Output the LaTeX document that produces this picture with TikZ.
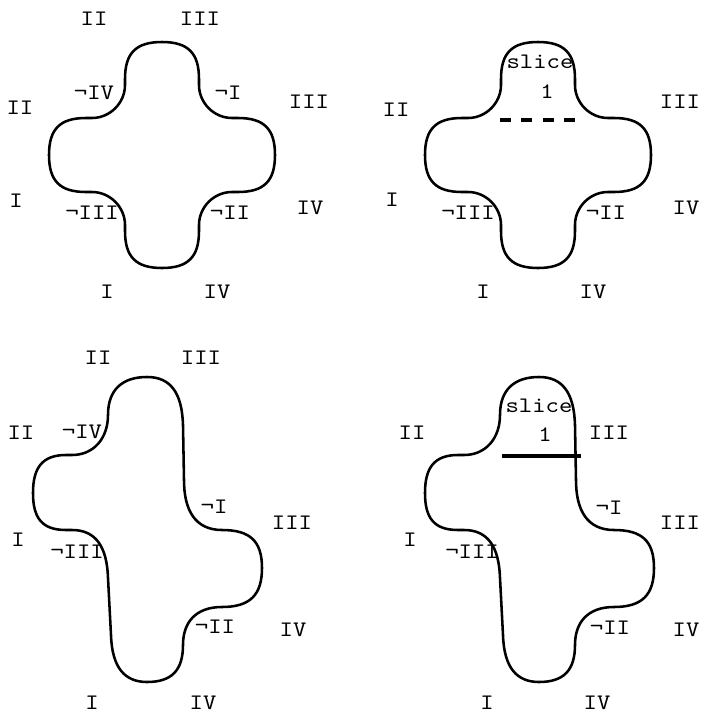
\documentclass[tikz,border=0pt]{standalone}
\usepackage{fontspec}
\newfontfamily\lblfont[FakeStretch=1.15]{lmmono10-regular.otf}
\usetikzlibrary{arrows.meta}
\begin{document}
\begin{tikzpicture}[
  x=0.02cm, y=-0.02cm,
  outline/.style={line width=1.45pt,line join=round},
  cutline/.style={line width=1.9pt},
  lbl/.style={font=\lblfont\fontsize{12.6}{14}\selectfont,inner sep=0pt},
  crosspic/.pic={
    \draw[outline] (-37,-70) -- (-37,-76)
      .. controls (-37,-102) and (-26,-113) .. (0,-113)
      .. controls (26,-113) and (37,-102) .. (37,-76)
      -- (37,-70)
      .. controls (37,-52) and (52,-37) .. (70,-37)
      -- (76,-37)
      .. controls (102,-37) and (113,-26) .. (113,0)
      .. controls (113,26) and (102,37) .. (76,37)
      -- (70,37)
      .. controls (52,37) and (37,52) .. (37,70)
      -- (37,76)
      .. controls (37,102) and (26,113) .. (0,113)
      .. controls (-26,113) and (-37,102) .. (-37,76)
      -- (-37,70)
      .. controls (-37,52) and (-52,37) .. (-70,37)
      -- (-76,37)
      .. controls (-102,37) and (-113,26) .. (-113,0)
      .. controls (-113,-26) and (-102,-37) .. (-76,-37)
      -- (-70,-37)
      .. controls (-52,-37) and (-37,-52) .. (-37,-70)
      -- cycle;
  },
  bentpic/.pic={
    \draw[outline] (147,377)
      .. controls (122,377) and (108,390) .. (108,415)
      .. controls (108,438) and (94,455) .. (72,455)
      -- (66,455)
      .. controls (42,455) and (33,468) .. (33,493)
      .. controls (33,518) and (42,530) .. (66,530)
      -- (72,530)
      .. controls (96,530) and (107,547) .. (108,578)
      -- (111,635)
      .. controls (112,668) and (125,682) .. (147,682)
      .. controls (172,682) and (183,670) .. (183,645)
      .. controls (183,622) and (196,607) .. (222,607)
      .. controls (250,607) and (262,595) .. (262,568)
      .. controls (262,541) and (250,530) .. (222,530)
      .. controls (195,530) and (184,510) .. (184,480)
      -- (183,425)
      .. controls (182,392) and (170,377) .. (147,377)
      -- cycle;
  }
]
\useasboundingbox (0,0) rectangle (701,714);

% top left
\pic at (162,155) {crosspic};
\node[lbl] (aIIt) at (94,19) {II};
\node[lbl] (aIIIt) at (200,19) {III};
\node[lbl] (aNIV) at (94,93) {¬IV};
\node[lbl] (aNI) at (228,93) {¬I};
\node[lbl] (aIIl) at (20,108) {II};
\node[lbl] (aIIIr) at (309,102) {III};
\node[lbl] (aIl) at (16,201) {I};
\node[lbl] (aNIII) at (92,213) {¬III};
\node[lbl] (aNII) at (230,213) {¬II};
\node[lbl] (aIVr) at (310,208) {IV};
\node[lbl] (aIb) at (107,292) {I};
\node[lbl] (aIVb) at (217,292) {IV};

% top right
\pic at (538,155) {crosspic};
\node[lbl] (bslice) at (540,62) {slice};
\node[lbl] (bone) at (547,92) {1};
\node[lbl] (bIIl) at (396,110) {II};
\node[lbl] (bIIIr) at (680,102) {III};
\node[lbl] (bIl) at (392,200) {I};
\node[lbl] (bNIII) at (468,213) {¬III};
\node[lbl] (bNII) at (606,213) {¬II};
\node[lbl] (bIVr) at (686,208) {IV};
\node[lbl] (bIb) at (483,292) {I};
\node[lbl] (bIVb) at (593,292) {IV};
\coordinate (bcutl) at (500,120);
\coordinate (bcutr) at (575,120);
\draw[cutline,dash pattern=on 0.22cm off 0.21cm] (bcutl) -- (bcutr);

% bottom left
\pic at (0,0) {bentpic};
\node[lbl] (cIIt) at (98,358) {II};
\node[lbl] (cIIIt) at (201,358) {III};
\node[lbl] (cIIl) at (21,433) {II};
\node[lbl] (cNIV) at (82,432) {¬IV};
\node[lbl] (cNI) at (214,507) {¬I};
\node[lbl] (cIIIr) at (292,523) {III};
\node[lbl] (cIl) at (18,540) {I};
\node[lbl] (cNIII) at (77,552) {¬III};
\node[lbl] (cNII) at (215,627) {¬II};
\node[lbl] (cIVr) at (293,630) {IV};
\node[lbl] (cIb) at (92,703) {I};
\node[lbl] (cIVb) at (203,703) {IV};

% bottom right
\pic at (392,0) {bentpic};
\node[lbl] (dslice) at (539,406) {slice};
\node[lbl] (done) at (545,435) {1};
\node[lbl] (dIIl) at (412,433) {II};
\node[lbl] (dIIIt) at (609,433) {III};
\node[lbl] (dNI) at (609,508) {¬I};
\node[lbl] (dIIIr) at (680,523) {III};
\node[lbl] (dIl) at (410,540) {I};
\node[lbl] (dNIII) at (472,552) {¬III};
\node[lbl] (dNII) at (610,628) {¬II};
\node[lbl] (dIVr) at (686,630) {IV};
\node[lbl] (dIb) at (487,703) {I};
\node[lbl] (dIVb) at (597,703) {IV};
\coordinate (dcutl) at (502,456);
\coordinate (dcutr) at (581,456);
\draw[cutline] (dcutl) -- (dcutr);
\end{tikzpicture}
\end{document}
